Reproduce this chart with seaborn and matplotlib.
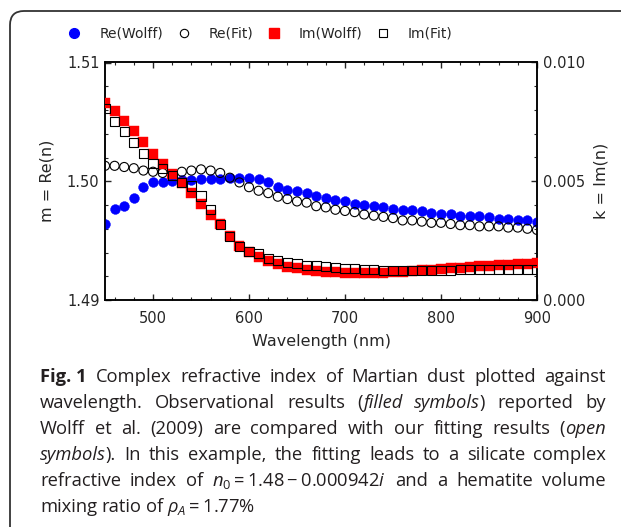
import numpy as np
import pandas as pd
import matplotlib
matplotlib.use("Agg")
import matplotlib.pyplot as plt
import seaborn as sns
from matplotlib.lines import Line2D
from matplotlib.patches import FancyBboxPatch
from matplotlib.ticker import MultipleLocator, FixedLocator, FixedFormatter

# ---------------- data ----------------
wavelength = [450, 460, 470, 480, 490, 500, 510, 520, 530, 540, 550, 560, 570, 580, 590,
              600, 610, 620, 630, 640, 650, 660, 670, 680, 690, 700, 710, 720, 730, 740,
              750, 760, 770, 780, 790, 800, 810, 820, 830, 840, 850, 860, 870, 880, 890, 900]

re_wolff = [1.4964, 1.4977, 1.4979, 1.4986, 1.4995, 1.4999, 1.4999, 1.5000, 1.5001, 1.5001,
            1.5002, 1.5002, 1.5002, 1.5003, 1.5003, 1.5003, 1.5002, 1.4999, 1.4995, 1.4993,
            1.4992, 1.4990, 1.4988, 1.4986, 1.4984, 1.4983, 1.4981, 1.4980, 1.4979, 1.4978,
            1.4977, 1.4976, 1.4976, 1.4975, 1.4973, 1.4972, 1.4972, 1.4971, 1.4971, 1.4971,
            1.4970, 1.4968, 1.4968, 1.4967, 1.4967, 1.4966]

re_fit = [1.5013, 1.5013, 1.5012, 1.5011, 1.5009, 1.5008, 1.5007, 1.5006, 1.5008, 1.5009,
          1.5010, 1.5009, 1.5007, 1.5003, 1.4999, 1.4995, 1.4992, 1.4990, 1.4987, 1.4985,
          1.4983, 1.4982, 1.4979, 1.4978, 1.4976, 1.4975, 1.4974, 1.4972, 1.4971, 1.4970,
          1.4969, 1.4967, 1.4967, 1.4966, 1.4965, 1.4965, 1.4964, 1.4963, 1.4963, 1.4962,
          1.4962, 1.4962, 1.4961, 1.4961, 1.4960, 1.4959]

im_wolff = [0.00828, 0.00796, 0.00755, 0.00712, 0.00664, 0.00615, 0.00573, 0.00531, 0.00493, 0.00449,
            0.00404, 0.00358, 0.00319, 0.00269, 0.00229, 0.00204, 0.00182, 0.00164, 0.00150, 0.00140,
            0.00133, 0.00127, 0.00123, 0.00119, 0.00117, 0.00115, 0.00114, 0.00113, 0.00113, 0.00114,
            0.00116, 0.00119, 0.00122, 0.00125, 0.00128, 0.00131, 0.00133, 0.00136, 0.00139, 0.00142,
            0.00145, 0.00147, 0.00149, 0.00150, 0.00153, 0.00154]

im_fit = [0.00807, 0.00751, 0.00709, 0.00664, 0.00615, 0.00573, 0.00552, 0.00526, 0.00494, 0.00480,
          0.00438, 0.00383, 0.00319, 0.00267, 0.00225, 0.00204, 0.00194, 0.00175, 0.00166, 0.00159,
          0.00152, 0.00147, 0.00145, 0.00140, 0.00136, 0.00133, 0.00131, 0.00128, 0.00128, 0.00126,
          0.00124, 0.00124, 0.00125, 0.00125, 0.00126, 0.00126, 0.00126, 0.00127, 0.00127, 0.00127,
          0.00127, 0.00127, 0.00127, 0.00127, 0.00127, 0.00127]

series_labels = ["Re(Wolff)", "Re(Fit)", "Im(Wolff)", "Im(Fit)"]
left_ticks = [1.49, 1.50, 1.51]
left_ticklabels = ["1.49", "1.50", "1.51"]
right_ticks = [0.0, 0.005, 0.010]
right_ticklabels = ["0.000", "0.005", "0.010"]
x_ticks = [500, 600, 700, 800, 900]

caption_lines = [
    [[("Fig. 1", "bold")], [("Complex", "n")], [("refractive", "n")], [("index", "n")], [("of", "n")],
     [("Martian", "n")], [("dust", "n")], [("plotted", "n")], [("against", "n")]],
    [[("wavelength.", "n")], [("Observational", "n")], [("results", "n")], [("(", "n"), ("filled", "i")],
     [("symbols", "i"), (")", "n")], [("reported", "n")], [("by", "n")]],
    [[("Wolff", "n")], [("et", "n")], [("al.", "n")], [("(2009)", "n")], [("are", "n")], [("compared", "n")],
     [("with", "n")], [("our", "n")], [("fitting", "n")], [("results", "n")], [("(", "n"), ("open", "i")]],
    [[("symbols", "i"), (").", "n")], [("In", "n")], [("this", "n")], [("example,", "n")], [("the", "n")],
     [("fitting", "n")], [("leads", "n")], [("to", "n")], [("a", "n")], [("silicate", "n")], [("complex", "n")]],
    [[("refractive", "n")], [("index", "n")], [("of", "n")], [(r"$n_0 = 1.48 - 0.000942i$", "n")],
     [("and", "n")], [("a", "n")], [("hematite", "n")], [("volume", "n")]],
    [[("mixing", "n")], [("ratio", "n")], [("of", "n")], [(r"$\rho_A = 1.77\%$", "n")]],
]

# ---------------- style ----------------
sns.set_style("ticks")
plt.rcParams["font.family"] = ["DejaVu Sans"]
plt.rcParams["mathtext.fontset"] = "custom"
plt.rcParams["mathtext.rm"] = "Open Sans"
plt.rcParams["mathtext.it"] = "Open Sans:italic"
plt.rcParams["mathtext.bf"] = "Open Sans:bold"

W, H, DPI = 621, 527, 100
fig = plt.figure(figsize=(W / DPI, H / DPI), dpi=DPI)

def fx(px):
    return px / W

def fy(py):
    return 1 - py / H

ax_left, ax_right, ax_top, ax_bot = 105, 537, 62.5, 300
ax = fig.add_axes([fx(ax_left), fy(ax_bot), fx(ax_right - ax_left), (ax_bot - ax_top) / H])
ax2 = ax.twinx()

df = pd.DataFrame({"wl": wavelength, "re_wolff": re_wolff, "re_fit": re_fit,
                   "im_wolff": im_wolff, "im_fit": im_fit})

msize = 50
sns.scatterplot(data=df, x="wl", y="re_wolff", ax=ax, color="#0000ff", marker="o",
                s=msize, edgecolor="#0000ff", linewidth=0.3, legend=False, zorder=3)
sns.scatterplot(data=df, x="wl", y="re_fit", ax=ax, marker="o", s=msize * 0.85,
                facecolor="none", edgecolor="black", linewidth=0.8, legend=False, zorder=4)
sns.scatterplot(data=df, x="wl", y="im_wolff", ax=ax2, color="#ff0000", marker="s",
                s=msize, edgecolor="#ff0000", linewidth=0.3, legend=False, zorder=3)
sns.scatterplot(data=df, x="wl", y="im_fit", ax=ax2, marker="s", s=msize * 0.85,
                facecolor="none", edgecolor="black", linewidth=0.8, legend=False, zorder=4)

ax.set_xlim(450, 900)
ax.set_ylim(1.49, 1.51)
ax2.set_ylim(0.0, 0.010)

ax.xaxis.set_major_locator(FixedLocator(x_ticks))
ax.xaxis.set_minor_locator(MultipleLocator(20))
ax.yaxis.set_major_locator(FixedLocator(left_ticks))
ax.yaxis.set_major_formatter(FixedFormatter(left_ticklabels))
ax.yaxis.set_minor_locator(MultipleLocator(0.002))
ax2.yaxis.set_major_locator(FixedLocator(right_ticks))
ax2.yaxis.set_major_formatter(FixedFormatter(right_ticklabels))
ax2.yaxis.set_minor_locator(MultipleLocator(0.001))

for a in (ax, ax2):
    for sp in a.spines.values():
        sp.set_linewidth(1.1)
        sp.set_color("black")
        sp.set_visible(True)

ax.tick_params(axis="x", which="both", direction="in", top=True, bottom=True, labelsize=10.5, pad=8)
ax.tick_params(axis="y", which="both", direction="in", left=True, right=False, labelsize=10.5, pad=4)
ax2.tick_params(axis="y", which="both", direction="in", right=True, left=False, labelsize=10.5, pad=4)
for a in (ax, ax2):
    a.tick_params(which="major", length=4.5, width=1.0)
    a.tick_params(which="minor", length=2.5, width=0.8)

ax.set_xlabel("Wavelength (nm)", fontsize=11.5, labelpad=6)
ax.set_ylabel("m = Re(n)", fontsize=11.5, labelpad=9)
ax2.set_ylabel("k = Im(n)", fontsize=11.5, labelpad=6)

# ---------------- legend ----------------
handles = [
    Line2D([], [], linestyle="none", marker="o", markersize=7, markerfacecolor="#0000ff", markeredgecolor="#0000ff"),
    Line2D([], [], linestyle="none", marker="o", markersize=6, markerfacecolor="none", markeredgecolor="black", markeredgewidth=0.8),
    Line2D([], [], linestyle="none", marker="s", markersize=6.5, markerfacecolor="#ff0000", markeredgecolor="#ff0000"),
    Line2D([], [], linestyle="none", marker="s", markersize=6, markerfacecolor="none", markeredgecolor="black", markeredgewidth=0.8),
]
fig.legend(handles, series_labels, loc="center", bbox_to_anchor=(fx(260), fy(34)), ncol=4,
           frameon=False, fontsize=10, handlelength=1.0, handletextpad=1.3, columnspacing=0.97,
           borderpad=0, borderaxespad=0)

# ---------------- frame ----------------
frame = FancyBboxPatch((10, -30), 660, (H - 11) + 30, boxstyle="round,pad=0,rounding_size=14",
                       transform=None, fill=False, edgecolor="#333333", linewidth=1.3)
fig.patches.append(frame)

# ---------------- caption (justified) ----------------
cap_left, cap_right = 40, 606
line_y0, line_step = 377, 26
cap_size = 13.2
fig.canvas.draw()
renderer = fig.canvas.get_renderer()

def make_piece(text, style):
    kw = dict(fontsize=cap_size, family=["Open Sans", "DejaVu Sans"], va="center", ha="left",
              color="#231f20")
    if style == "bold":
        kw["fontweight"] = "bold"
    elif style == "i":
        kw["fontstyle"] = "italic"
    return fig.text(0, 0, text, **kw)

for li, line in enumerate(caption_lines):
    ypix = line_y0 + li * line_step
    words = []
    for word in line:
        pieces = []
        for text, style in word:
            t = make_piece(text, style)
            w = t.get_window_extent(renderer).width
            pieces.append((t, w))
        words.append(pieces)
    widths = [sum(w for _, w in p) for p in words]
    total = sum(widths)
    if li < len(caption_lines) - 1 and len(words) > 1:
        gap = (cap_right - cap_left - total) / (len(words) - 1)
    else:
        gap = 4.5
    xcur = cap_left
    for pieces, wsum in zip(words, widths):
        xp = xcur
        for t, w in pieces:
            t.set_position((fx(xp), fy(ypix)))
            xp += w
        xcur += wsum + gap

fig.savefig("out.png", dpi=DPI)
